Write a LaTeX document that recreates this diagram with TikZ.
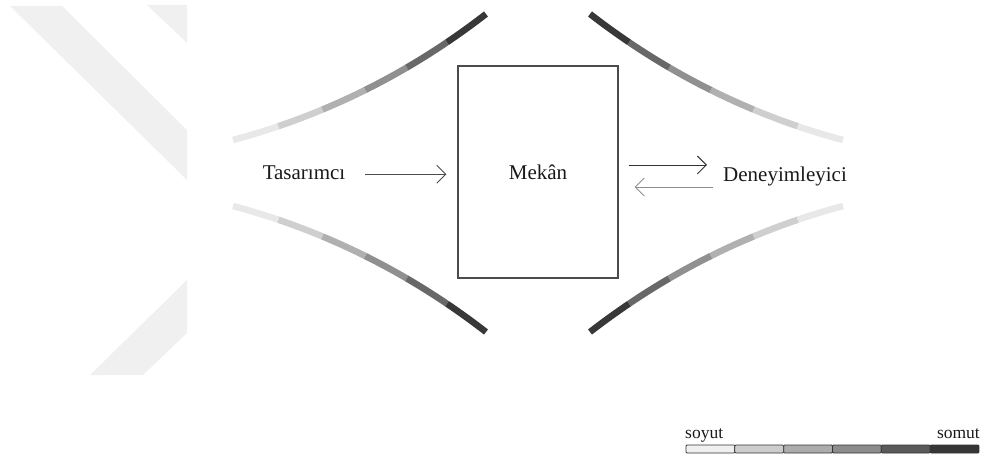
\documentclass[tikz,border=0pt]{standalone}
\usepackage{fontspec}
\setmainfont{Liberation Serif}
\usetikzlibrary{arrows.meta}
\definecolor{wm}{HTML}{F0F0F0}
\definecolor{g1}{HTML}{E8E8E8}
\definecolor{g2}{HTML}{CFCFCF}
\definecolor{g3}{HTML}{B0B0B0}
\definecolor{g4}{HTML}{909090}
\definecolor{g5}{HTML}{686868}
\definecolor{g6}{HTML}{383838}
\definecolor{s1}{HTML}{F0F0F0}
\definecolor{s2}{HTML}{CDCDCD}
\definecolor{s3}{HTML}{ACACAC}
\definecolor{s4}{HTML}{8C8C8C}
\definecolor{s5}{HTML}{5A5A5A}
\definecolor{s6}{HTML}{363636}
\newcommand{\gradarc}{%
  \foreach \c [count=\k from 0] in {g1,g2,g3,g4,g5,g6}{%
    \pgfmathsetmacro\ta{\k/6}%
    \pgfmathsetmacro\tb{(\k+1)/6}%
    \draw[\c, line width=6.5pt] plot[domain=\ta:\tb, samples=8, variable=\t, smooth]
      ({(1-\t)^2*(-305)+2*\t*(1-\t)*(-167)+\t^2*(-52)},
       {(1-\t)^2*(-33)+2*\t*(1-\t)*(-70)+\t^2*(-159)});
  }%
}
\tikzset{
  lbl/.style={font=\fontsize{21}{21}\selectfont, text=black!90, inner sep=0pt, anchor=base},
  arr/.style={-{Straight Barb[length=9pt,width=18pt]}, line width=0.9pt},
  scalebox/.style={draw=black!80, line width=0.8pt, rounded corners=1pt},
  small/.style={font=\fontsize{17.5}{17.5}\selectfont, text=black!90, inner sep=0pt}
}
\begin{document}
\begin{tikzpicture}[x=1pt,y=-1pt]
\useasboundingbox (0,0) rectangle (982,457);
% watermark
\fill[wm] (10,6) -- (62,6) -- (187,130) -- (187,180) -- cycle;
\fill[wm] (147,5) -- (187,5) -- (187,43) -- cycle;
\fill[wm] (187,280) -- (187,333) -- (143,375) -- (90,375) -- cycle;
% arcs
\begin{scope}[shift={(538,173)}] \gradarc \end{scope}
\begin{scope}[shift={(538,173)}, xscale=-1] \gradarc \end{scope}
\begin{scope}[shift={(538,173)}, yscale=-1] \gradarc \end{scope}
\begin{scope}[shift={(538,173)}, xscale=-1, yscale=-1] \gradarc \end{scope}
% nodes
\node[draw=black!70, line width=1.2pt, minimum width=160pt, minimum height=212pt,
      inner sep=0pt, font=\fontsize{21}{21}\selectfont, text=black!90] (mekan) at (538,172) {Mekân};
\node[lbl] (tas) at (304,180) {Tasarımcı};
\node[lbl] (den) at (785,182) {Deneyimleyici};
% arrows
\draw[arr, black!70, shorten <=20pt, shorten >=11pt] ([yshift=-1pt]tas.east) -- ([yshift=-1pt]tas.east -| mekan.west);
\draw[arr, black!80, shorten <=10pt, shorten >=16pt] ([yshift=12pt]den.west -| mekan.east) -- ([yshift=12pt]den.west);
\draw[arr, black!45, shorten <=10pt, shorten >=16pt] ([yshift=-10pt]den.west) -- ([yshift=-10pt]den.west -| mekan.east);
% scale
\foreach \c [count=\k from 0] in {s1,s2,s3,s4,s5,s6}{
  \draw[scalebox, fill=\c] (686+48.83*\k,445) rectangle (686+48.83*\k+48.83,453);
}
\node[small, anchor=base west] (soyut) at (685,438) {soyut};
\node[small, anchor=base east] (somut) at (980,438) {somut};
\end{tikzpicture}
\end{document}
